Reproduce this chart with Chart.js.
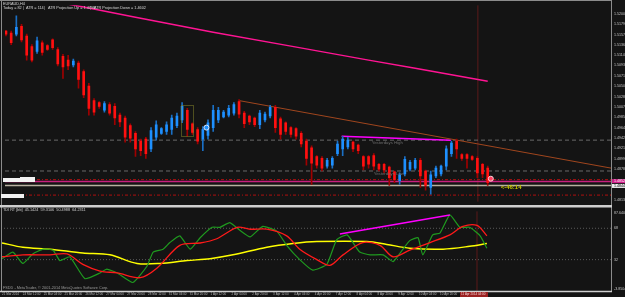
<!DOCTYPE html>
<html>
<head>
<meta charset="utf-8">
<script src="https://cdn.jsdelivr.net/npm/chart.js@4.4.1/dist/chart.umd.min.js"></script>
<style>
body { margin: 0; background: #141414; }
#wrap { position: relative; width: 625px; height: 297px; background: #141414; overflow: hidden; }
#main { position: absolute; left: 0; top: 0; }
#ind { position: absolute; left: 0; top: 206px; }
</style>
</head>
<body>
<div id="wrap">
  <canvas id="main" width="625" height="207"></canvas>
  <canvas id="ind" width="625" height="91"></canvas>
</div>
<script>
// EURAUD H4 candles (bar index = position)
const opens = [
  1.5164, 1.5160, 1.5158, 1.5174, 1.5154, 1.5132, 1.5122, 1.5140, 1.5134, 1.5146,
  1.5126, 1.5112, 1.5104, 1.5094, 1.5098, 1.5080, 1.5050, 1.5020, 1.5016, 1.5000,
  1.5012, 1.5008, 1.4990, 1.4984, 1.4968, 1.4952, 1.4936, 1.4940, 1.4920, 1.4944,
  1.4952, 1.4956, 1.4960, 1.4968, 1.4980, 1.5000, 1.4972, 1.4960, 1.4940, 1.4948,
  1.4964, 1.4980, 1.4986, 1.4990, 1.4994, 1.5018, 1.4994, 1.4988, 1.4984, 1.4970,
  1.4980, 1.4988, 1.5006, 1.4982, 1.4974, 1.4964, 1.4962, 1.4952, 1.4936, 1.4922,
  1.4904, 1.4900, 1.4884, 1.4886, 1.4910, 1.4920, 1.4924, 1.4934, 1.4928, 1.4904,
  1.4904, 1.4906, 1.4888, 1.4888, 1.4882, 1.4872, 1.4854, 1.4868, 1.4878, 1.4880,
  1.4896, 1.4874, 1.4840, 1.4864, 1.4868, 1.4884, 1.4910, 1.4936, 1.4908, 1.4908,
  1.4904, 1.4900, 1.4888, 1.4880
];
const highs = [
  1.5166, 1.5164, 1.5196, 1.5178, 1.5158, 1.5136, 1.5152, 1.5144, 1.5136, 1.5148,
  1.5130, 1.5116, 1.5114, 1.5106, 1.5102, 1.5084, 1.5056, 1.5024, 1.5018, 1.5018,
  1.5016, 1.5014, 1.4994, 1.4988, 1.4972, 1.4956, 1.4940, 1.4944, 1.4964, 1.4978,
  1.4964, 1.4976, 1.4990, 1.4994, 1.5016, 1.5004, 1.4974, 1.4964, 1.4966, 1.4980,
  1.5010, 1.5006, 1.5000, 1.5010, 1.5016, 1.5022, 1.4998, 1.4990, 1.4986, 1.5000,
  1.4996, 1.5010, 1.5010, 1.4986, 1.4976, 1.4966, 1.4964, 1.4956, 1.4940, 1.4926,
  1.4906, 1.4904, 1.4900, 1.4904, 1.4936, 1.4946, 1.4944, 1.4936, 1.4930, 1.4906,
  1.4906, 1.4910, 1.4890, 1.4890, 1.4884, 1.4874, 1.4870, 1.4904, 1.4896, 1.4900,
  1.4900, 1.4876, 1.4874, 1.4884, 1.4886, 1.4926, 1.4936, 1.4940, 1.4910, 1.4910,
  1.4906, 1.4904, 1.4890, 1.4884
];
const lows = [
  1.5154, 1.5136, 1.5154, 1.5142, 1.5104, 1.5100, 1.5118, 1.5114, 1.5124, 1.5126,
  1.5092, 1.5066, 1.5084, 1.5090, 1.5046, 1.5026, 1.4990, 1.4990, 1.5004, 1.4996,
  1.4990, 1.4970, 1.4966, 1.4934, 1.4934, 1.4904, 1.4906, 1.4900, 1.4914, 1.4938,
  1.4950, 1.4950, 1.4950, 1.4964, 1.4974, 1.4946, 1.4950, 1.4930, 1.4916, 1.4940,
  1.4956, 1.4974, 1.4984, 1.4986, 1.4990, 1.4984, 1.4964, 1.4970, 1.4966, 1.4962,
  1.4976, 1.4984, 1.4954, 1.4940, 1.4950, 1.4944, 1.4940, 1.4924, 1.4886, 1.4846,
  1.4880, 1.4874, 1.4880, 1.4880, 1.4906, 1.4906, 1.4920, 1.4914, 1.4910, 1.4876,
  1.4880, 1.4876, 1.4874, 1.4870, 1.4844, 1.4850, 1.4846, 1.4864, 1.4874, 1.4876,
  1.4840, 1.4834, 1.4826, 1.4860, 1.4864, 1.4876, 1.4904, 1.4900, 1.4896, 1.4880,
  1.4896, 1.4860, 1.4860, 1.4844
];
const closes = [
  1.5158, 1.5140, 1.5172, 1.5146, 1.5114, 1.5104, 1.5144, 1.5120, 1.5126, 1.5130,
  1.5096, 1.5090, 1.5092, 1.5102, 1.5064, 1.5032, 1.5004, 1.4996, 1.5008, 1.5014,
  1.4994, 1.4984, 1.4976, 1.4944, 1.4942, 1.4920, 1.4916, 1.4910, 1.4958, 1.4970,
  1.4962, 1.4970, 1.4984, 1.4988, 1.5008, 1.4960, 1.4954, 1.4936, 1.4960, 1.4974,
  1.5000, 1.5000, 1.4996, 1.5004, 1.5012, 1.4992, 1.4972, 1.4976, 1.4970, 1.4994,
  1.4992, 1.5006, 1.4964, 1.4950, 1.4956, 1.4950, 1.4946, 1.4930, 1.4900, 1.4890,
  1.4886, 1.4880, 1.4896, 1.4900, 1.4930, 1.4940, 1.4938, 1.4920, 1.4916, 1.4884,
  1.4888, 1.4884, 1.4878, 1.4876, 1.4860, 1.4856, 1.4866, 1.4898, 1.4892, 1.4896,
  1.4864, 1.4844, 1.4866, 1.4880, 1.4884, 1.4920, 1.4932, 1.4920, 1.4900, 1.4900,
  1.4898, 1.4870, 1.4868, 1.4850
];

// slow moving average (pink), sampled points
const maIdx = [10, 15, 25, 40, 55, 70, 79, 93];
const maVal = [1.5224, 1.5214, 1.5193, 1.5162, 1.5133, 1.5104, 1.5087, 1.5060];

// objects on the price chart
const trendIdx = [45, 116.8];
const trendVal = [1.5020, 1.4880];
const yHighIdx = [64.8, 85.9];
const yHighVal = [1.4946, 1.4938];
const dashLevels = [1.4938, 1.4874];      // yesterday high / low
const dashDotLevels = [1.4856, 1.4824];   // red dash-dot
const magentaLevel = 1.4852;
const bidLevel = 1.4844;
const cursorIdx = 91.1;

const priceTicks = [1.5200, 1.5179, 1.5157, 1.5136, 1.5114, 1.5093, 1.5071, 1.5050, 1.5028,
  1.5007, 1.4985, 1.4964, 1.4942, 1.4921, 1.4899, 1.4878, 1.4813];

// TDI indicator window
const greenIdx = [0, 2.1, 4.0, 5.9, 7.9, 9.8, 11.1, 13.0, 15.9, 18.8, 20.1, 22.1, 25.1, 27.8, 29.0, 30.9,
  32.2, 34.1, 36.1, 38.0, 40.3, 41.8, 43.7, 45.6, 47.6, 50.0, 52.7, 54.6, 57.1, 59.6, 62.3, 64.2,
  66.2, 68.6, 70.6, 73.1, 75.0, 76.9, 78.2, 79.8, 80.7, 82.6, 84.0, 85.9, 87.8, 89.7, 91.7, 93];
const greenVal = [33.1, 40.7, 27.6, 38.5, 44.0, 42.9, 30.9, 35.3, 10.2, 16.7, 21.1, 16.7, 5.8, 24.4, 40.7, 44.0,
  51.6, 59.3, 44.0, 57.1, 69.1, 69.1, 74.5, 65.8, 58.2, 70.2, 64.7, 48.4, 32.0, 20.0, 26.5, 54.9,
  60.4, 40.7, 37.5, 37.5, 29.8, 44.0, 53.8, 57.1, 37.5, 60.4, 62.5, 83.3, 69.1, 69.1, 59.3, 45.1];
const redIdx = [0, 4.0, 9.2, 12.5, 15.5, 18.8, 22.1, 26.5, 29.7, 34.1, 38.0, 41.2, 45.1, 47.6, 50.8,
  54.6, 57.1, 60.4, 62.9, 65.4, 69.2, 72.5, 75.0, 78.2, 82.1, 85.9, 88.4, 91.1, 93];
const redVal = [35.3, 37.5, 37.5, 38.5, 26.5, 18.9, 16.7, 11.3, 22.2, 48.4, 51.1, 56.0, 69.1, 66.9, 66.9,
  59.3, 44.0, 32.0, 25.5, 37.5, 51.6, 48.4, 35.3, 42.9, 51.6, 60.4, 70.2, 71.3, 59.3];
const yellowIdx = [0, 4.0, 9.2, 15.5, 20.7, 25.9, 30.3, 35.5, 39.9, 44.3, 50.8, 55.8, 60.4, 70.0,
  73.8, 78.2, 84.6, 89.7, 93];
const yellowVal = [51.2, 46.2, 44.0, 39.6, 37.5, 27.6, 27.6, 30.9, 33.1, 37.5, 46.2, 50.5, 52.7, 52.7,
  49.5, 45.1, 44.0, 47.3, 50.5];
const divIdx = [64.8, 85.9];
const divVal = [61.5, 83.3];
const tdiLevels = [68, 32];
const tdiTicks = [85.8, 68, 32, -2.2];
const tdiTickLabels = ['87.6404', '68', '32', '-3.8504'];

// time axis
const timeIdx = [0, 4, 8, 12, 16, 20, 24, 28, 32, 36, 40, 44, 48, 52, 56, 60, 64, 68, 72, 76, 80, 84, 88];
const timeLabels = ['21 Mar 2014', '24 Mar 12:00', '25 Mar 04:00', '25 Mar 20:00', '26 Mar 12:00',
  '27 Mar 04:00', '27 Mar 20:00', '28 Mar 12:00', '31 Mar 04:00', '31 Mar 20:00', '1 Apr 12:00',
  '2 Apr 04:00', '2 Apr 20:00', '3 Apr 12:00', '4 Apr 04:00', '4 Apr 20:00', '7 Apr 12:00',
  '8 Apr 04:00', '8 Apr 20:00', '9 Apr 12:00', '10 Apr 04:00', '10 Apr 20:00', '11 Apr 12:00'];

const xMin = -0.19, xMax = 116.8;
const pMin = 1.4810, pMax = 1.5218;
const tMin = -4.0, tMax = 87.64;

const FONT = '"Liberation Sans", Arial, sans-serif';
const bull = '#1e90ff', bear = '#ff1010';
const bodyColors = opens.map((o, i) => closes[i] >= o ? bull : bear);
const wickColors = opens.map((o, i) => closes[i] >= o ? '#1a6fc4' : '#a00000');

const pts = (xs, ys) => xs.map((x, i) => ({ x: x, y: ys[i] }));
const flat = (v) => [{ x: xMin, y: v }, { x: xMax, y: v }];
const lineDs = (data, color, width, dash, order) => ({
  type: 'line', data: data, borderColor: color, borderWidth: width, borderDash: dash || [],
  pointRadius: 0, tension: 0, order: order
});

const mainOverlay = {
  id: 'mainOverlay',
  afterDraw(chart) {
    const { ctx, scales: { x, y } } = chart;
    ctx.save();
    // frame
    ctx.strokeStyle = '#8c8c8c';
    ctx.lineWidth = 1;
    ctx.beginPath();
    ctx.moveTo(1.5, 0); ctx.lineTo(1.5, 207);
    ctx.moveTo(0, 0.5); ctx.lineTo(612, 0.5);
    ctx.moveTo(611.5, 0); ctx.lineTo(611.5, 207);
    ctx.stroke();
    ctx.strokeStyle = '#cfcfcf';
    ctx.beginPath(); ctx.moveTo(0, 205.5); ctx.lineTo(612, 205.5); ctx.stroke();

    // dotted box around the inside bar
    ctx.strokeStyle = '#8a8a2a';
    ctx.setLineDash([1, 1]);
    const bx0 = x.getPixelForValue(33.7), bx1 = x.getPixelForValue(36.1);
    const by0 = y.getPixelForValue(1.5010), by1 = y.getPixelForValue(1.4946);
    ctx.strokeRect(Math.round(bx0) + 0.5, Math.round(by0) + 0.5, Math.round(bx1 - bx0), Math.round(by1 - by0));
    ctx.setLineDash([]);

    // white smudged labels on the left
    ctx.fillStyle = '#f2f2f2';
    ctx.fillRect(3, 178, 22, 4);
    ctx.fillRect(20, 177, 15, 5);
    ctx.fillRect(1, 194, 23, 4);

    // texts
    ctx.textBaseline = 'middle';
    ctx.textAlign = 'left';
    ctx.fillStyle = '#d8d8d8';
    ctx.font = '3.8px ' + FONT;
    ctx.fillText('EURAUD,H4', 3, 3.5);
    ctx.fillText('Today = 82', 3, 7.5);
    ctx.fillText('|', 23, 7.5);
    ctx.fillText('ATR = 114', 26, 7.5);
    ctx.fillText('|', 44, 7.5);
    ctx.fillText('ATR Projection Up = 1.4798', 48, 7.5);
    ctx.fillText('|', 90, 7.5);
    ctx.fillText('ATR Projection Down = 1.4602', 94, 7.5);

    ctx.fillStyle = '#6e6e6e';
    ctx.font = '4.3px ' + FONT;
    ctx.fillText('Yesterdays High', x.getPixelForValue(70.6), y.getPixelForValue(1.4932));
    ctx.fillText('Yesterdays Low', x.getPixelForValue(71.0), y.getPixelForValue(1.4868));

    ctx.fillStyle = '#c8c800';
    ctx.font = 'bold 6px ' + FONT;
    ctx.fillText('<-46:14', x.getPixelForValue(95.5), y.getPixelForValue(1.4840));

    // price boxes on the axis
    const ym = y.getPixelForValue(magentaLevel), yb = y.getPixelForValue(bidLevel);
    ctx.font = '3.6px ' + FONT;
    ctx.fillStyle = '#d0208a';
    ctx.fillRect(612, ym - 2.5, 13, 4);
    ctx.fillStyle = '#ffffff';
    ctx.fillText(magentaLevel.toFixed(4), 614, ym - 0.5);
    ctx.fillStyle = '#ececec';
    ctx.fillRect(612, yb - 1.5, 13, 4);
    ctx.fillStyle = '#000000';
    ctx.fillText(bidLevel.toFixed(4), 614, yb + 0.5);
    ctx.restore();
  }
};

new Chart(document.getElementById('main'), {
  type: 'bar',
  data: {
    datasets: [
      lineDs(flat(dashLevels[0]), '#6a6a6a', 1, [4, 3], 5),
      lineDs(flat(dashLevels[1]), '#6a6a6a', 1, [4, 3], 5),
      lineDs(flat(dashDotLevels[0]), '#b01010', 1, [3, 2, 1, 2], 5),
      lineDs(flat(dashDotLevels[1]), '#b01010', 1, [3, 2, 1, 2], 5),
      lineDs(flat(magentaLevel), '#c8207e', 1.5, [], 5),
      lineDs(flat(bidLevel), '#b8b0a0', 1.5, [], 5),
      lineDs([{ x: cursorIdx, y: pMin }, { x: cursorIdx, y: pMax }], '#5c1a1a', 1, [], 6),
      lineDs(pts(maIdx, maVal), '#ff1493', 1.5, [], 3),
      lineDs(pts(trendIdx, trendVal), '#a0461e', 1, [], 3),
      lineDs(pts(yHighIdx, yHighVal), '#ff00ff', 1.5, [], 3),
      {
        label: 'wicks', order: 2, grouped: false, barThickness: 1, borderWidth: 0,
        data: lows.map((l, i) => ({ x: i, y: [l, highs[i]] })),
        backgroundColor: wickColors
      },
      {
        label: 'bodies', order: 1, grouped: false, barThickness: 2, borderWidth: 0, minBarLength: 1,
        data: opens.map((o, i) => ({ x: i, y: [o, closes[i]] })),
        backgroundColor: bodyColors
      },
      {
        type: 'line', order: 0, showLine: false, data: [{ x: 38.7, y: 1.4964 }],
        pointRadius: 2.5, pointBackgroundColor: '#1e90ff', pointBorderColor: '#dfe8ff', pointBorderWidth: 1
      },
      {
        type: 'line', order: 0, showLine: false, data: [{ x: 93.6, y: 1.4858 }],
        pointRadius: 2.5, pointBackgroundColor: '#ff4060', pointBorderColor: '#ffd0d8', pointBorderWidth: 1
      }
    ]
  },
  options: {
    responsive: false,
    animation: false,
    layout: { padding: { left: 1, top: 1, right: 0, bottom: 2 } },
    plugins: { legend: { display: false }, tooltip: { enabled: false } },
    scales: {
      x: { type: 'linear', min: xMin, max: xMax, offset: false, display: false },
      y: {
        position: 'right', min: pMin, max: pMax,
        grid: { display: false, drawTicks: false },
        border: { display: false },
        afterFit: (s) => { s.width = 14; },
        afterBuildTicks: (s) => { s.ticks = priceTicks.map(v => ({ value: v })); },
        ticks: {
          autoSkip: false, padding: 3, color: '#c4c4c4',
          font: { family: FONT, size: 3.6 },
          callback: (v) => Number(v).toFixed(4)
        }
      }
    }
  },
  plugins: [mainOverlay]
});

const indOverlay = {
  id: 'indOverlay',
  afterDraw(chart) {
    const { ctx, scales: { x }, chartArea: a } = chart;
    ctx.save();
    ctx.strokeStyle = '#8c8c8c';
    ctx.lineWidth = 1;
    ctx.beginPath();
    ctx.moveTo(1.5, 0); ctx.lineTo(1.5, a.bottom);
    ctx.moveTo(611.5, 0); ctx.lineTo(611.5, a.bottom);
    ctx.stroke();
    ctx.strokeStyle = '#cfcfcf';
    ctx.lineWidth = 1.5;
    ctx.beginPath();
    ctx.moveTo(0, 0.75); ctx.lineTo(612, 0.75);
    ctx.moveTo(0, a.bottom + 0.5); ctx.lineTo(612, a.bottom + 0.5);
    ctx.stroke();

    ctx.textBaseline = 'middle';
    ctx.textAlign = 'left';
    ctx.fillStyle = '#d0d0d0';
    ctx.font = '3.8px ' + FONT;
    ctx.fillText('TDI RT [bb]  45.1424  59.3106  50.4988  64.2311', 3, 4);
    ctx.fillStyle = '#9a9a9a';
    ctx.fillText('FSDD - MetaTrader, \u00a9 2001-2014 MetaQuotes Software Corp.', 3, 82);

    // crosshair time box
    const cx = x.getPixelForValue(cursorIdx);
    ctx.fillStyle = '#9a2020';
    ctx.fillRect(cx - 17, a.bottom + 1, 28, 6);
    ctx.fillStyle = '#f0d0d0';
    ctx.font = '3px ' + FONT;
    ctx.fillText('11 Apr 2014 04:00', cx - 16, a.bottom + 3.5);
    ctx.restore();
  }
};

new Chart(document.getElementById('ind'), {
  type: 'line',
  data: {
    datasets: [
      lineDs(flat(tdiLevels[0]), '#5a5a5a', 1, [1, 2], 6),
      lineDs(flat(tdiLevels[1]), '#5a5a5a', 1, [1, 2], 6),
      lineDs([{ x: cursorIdx, y: tMin }, { x: cursorIdx, y: tMax }], '#5c1a1a', 1, [], 6),
      Object.assign(lineDs(pts(yellowIdx, yellowVal), '#ffff00', 1.5, [], 3), { tension: 0.3 }),
      Object.assign(lineDs(pts(greenIdx, greenVal), '#1f9a1f', 1.2, [], 2), { tension: 0.15 }),
      Object.assign(lineDs(pts(redIdx, redVal), '#ff1a1a', 1.3, [], 1), { tension: 0.3 }),
      lineDs(pts(divIdx, divVal), '#ff00ff', 1.5, [], 0)
    ]
  },
  options: {
    responsive: false,
    animation: false,
    layout: { padding: { left: 1, top: 1, right: 0, bottom: 0 } },
    plugins: { legend: { display: false }, tooltip: { enabled: false } },
    scales: {
      x: {
        type: 'linear', min: xMin, max: xMax, offset: false,
        grid: { display: false, drawTicks: false },
        border: { display: false },
        afterFit: (s) => { s.height = 6; },
        afterBuildTicks: (s) => { s.ticks = timeIdx.map(v => ({ value: v })); },
        ticks: {
          autoSkip: false, maxRotation: 0, align: 'start', padding: 1, color: '#b8b8b8',
          font: { family: FONT, size: 3 },
          callback: (v) => timeLabels[timeIdx.indexOf(v)]
        }
      },
      y: {
        position: 'right', min: tMin, max: tMax,
        grid: { display: false, drawTicks: false },
        border: { display: false },
        afterFit: (s) => { s.width = 14; },
        afterBuildTicks: (s) => { s.ticks = tdiTicks.map(v => ({ value: v })); },
        ticks: {
          autoSkip: false, padding: 3, color: '#c4c4c4',
          font: { family: FONT, size: 3.6 },
          callback: (v) => tdiTickLabels[tdiTicks.indexOf(v)]
        }
      }
    }
  },
  plugins: [indOverlay]
});
</script>
</body>
</html>
